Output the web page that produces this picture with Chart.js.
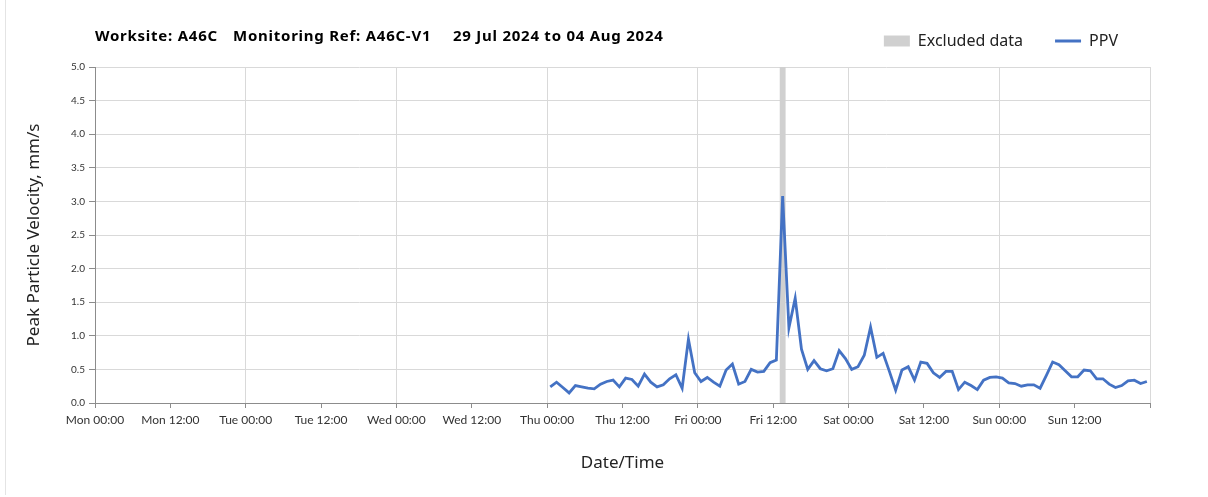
<!DOCTYPE html>
<html>
<head>
<meta charset="utf-8">
<script src="https://cdn.jsdelivr.net/npm/chart.js@4/dist/chart.umd.min.js"></script>
<style>
  html, body { margin: 0; padding: 0; background: #fff; }
  #wrap { position: relative; width: 1208px; height: 497px; }
  #wrap::before { content: ''; position: absolute; left: 5px; top: 0; bottom: 2px; border-left: 1px solid #e4e4e4; }
</style>
</head>
<body>
<div id="wrap"><canvas id="ppvChart" width="1208" height="497"></canvas></div>
<script>
// axis runs Mon 29 Jul 00:00 -> Mon 05 Aug 00:00, values in hours
const axisHours = 168;
const tickLabels = ['Mon 00:00', 'Mon 12:00', 'Tue 00:00', 'Tue 12:00', 'Wed 00:00', 'Wed 12:00',
  'Thu 00:00', 'Thu 12:00', 'Fri 00:00', 'Fri 12:00', 'Sat 00:00', 'Sat 12:00', 'Sun 00:00', 'Sun 12:00'];

// hourly readings, first one at Thu 00:30
const firstReadingHour = 72.5;
const readingStepHours = 1;
const ppvValues = [
  0.24, 0.31, 0.23, 0.15, 0.26, 0.24, 0.22, 0.21, 0.28, 0.32, 0.34, 0.24,
  0.37, 0.35, 0.25, 0.43, 0.31, 0.24, 0.27, 0.36, 0.42, 0.22, 0.95, 0.45,
  0.32, 0.38, 0.31, 0.25, 0.49, 0.58, 0.28, 0.32, 0.50, 0.46, 0.47, 0.60,
  0.64, 3.08, 1.12, 1.56, 0.80, 0.50, 0.63, 0.51, 0.48, 0.51, 0.78, 0.66,
  0.50, 0.54, 0.71, 1.13, 0.68, 0.74, 0.47, 0.19, 0.49, 0.54, 0.34, 0.61,
  0.59, 0.45, 0.38, 0.47, 0.47, 0.20, 0.31, 0.26, 0.20, 0.34, 0.38, 0.39,
  0.37, 0.30, 0.29, 0.25, 0.27, 0.27, 0.22, 0.41, 0.61, 0.57, 0.48, 0.39,
  0.39, 0.49, 0.48, 0.36, 0.36, 0.28, 0.23, 0.26, 0.33, 0.34, 0.29, 0.32
];

// excluded period (hours from axis start): Fri 13:00 - 14:00
const excludedFrom = 109;
const excludedTo = 110;
const yMax = 5;

const titleParts = ['Worksite: A46C', 'Monitoring Ref: A46C-V1', '29 Jul 2024 to 04 Aug 2024'];

const ppvPoints = ppvValues.map((v, i) => ({ x: firstReadingHour + i * readingStepHours, y: v }));
const excludedPoints = [{ x: excludedFrom, y: yMax }, { x: excludedTo, y: yMax }];

const headerPlugin = {
  id: 'header',
  beforeInit(chart) {
    // legend takes the whole band above the plot
    const fit = chart.legend.fit;
    chart.legend.fit = function () {
      fit.call(this);
      this.height = 66;
    };
  },
  afterDraw(chart) {
    const ctx = chart.ctx;
    const left = chart.chartArea.left;
    const offsets = [0, 138, 358];
    ctx.save();
    ctx.fillStyle = '#000';
    ctx.font = 'bold 15px "Noto Sans"';
    ctx.letterSpacing = '0.75px';
    ctx.textBaseline = 'middle';
    titleParts.forEach((t, i) => ctx.fillText(t, left + offsets[i], 37));
    ctx.restore();
  }
};

const gridGrey = '#d9d9d9';
const axisGrey = '#8c8c8c';

new Chart(document.getElementById('ppvChart'), {
  type: 'line',
  data: {
    datasets: [{
      label: 'Excluded data',
      data: excludedPoints,
      backgroundColor: '#d0d0d0',
      borderWidth: 0,
      pointRadius: 0,
      fill: 'origin',
      order: 1
    }, {
      label: 'PPV',
      data: ppvPoints,
      borderColor: '#4472c4',
      backgroundColor: '#4472c4',
      borderWidth: 2.8,
      pointRadius: 0,
      tension: 0,
      fill: false,
      order: 0
    }]
  },
  options: {
    responsive: false,
    animation: false,
    layout: { padding: { top: 1, right: 58, left: 0, bottom: 0 } },
    plugins: {
      tooltip: { enabled: false },
      legend: {
        position: 'top',
        align: 'end',
        labels: {
          font: { family: 'Noto Sans', size: 16 },
          color: '#222',
          usePointStyle: true,
          pointStyleWidth: 26,
          boxHeight: 11,
          padding: 32,
          generateLabels(chart) {
            return chart.data.datasets.map((ds, i) => ({
              text: ds.label,
              datasetIndex: i,
              fillStyle: ds.backgroundColor,
              strokeStyle: i === 0 ? '#d0d0d0' : ds.borderColor,
              lineWidth: i === 0 ? 0 : 3,
              pointStyle: i === 0 ? 'rect' : 'line',
              fontColor: '#222',
              hidden: false
            }));
          }
        }
      }
    },
    scales: {
      x: {
        type: 'linear',
        min: 0,
        max: axisHours,
        afterFit(scale) { scale.height = 94; },
        border: { color: axisGrey, width: 1 },
        grid: {
          color: ctx => (ctx.tick && ctx.tick.value % 24 === 0 ? gridGrey : 'rgba(0,0,0,0)'),
          tickColor: axisGrey,
          tickLength: 5
        },
        ticks: {
          stepSize: 12,
          autoSkip: false,
          maxRotation: 0,
          padding: 5,
          color: '#333',
          font: { family: 'Lato', size: 12 },
          callback: (v) => tickLabels[v / 12] || ''
        },
        title: {
          display: true,
          text: 'Date/Time',
          color: '#222',
          font: { family: 'Noto Sans', size: 17 },
          padding: { top: 4, bottom: 24 }
        }
      },
      y: {
        min: 0,
        max: yMax,
        afterFit(scale) { scale.width = 95; },
        border: { color: axisGrey, width: 1 },
        grid: { color: gridGrey, tickColor: axisGrey, tickLength: 6 },
        ticks: {
          stepSize: 0.5,
          padding: 4,
          color: '#333',
          font: { family: 'Lato', size: 10 },
          callback: v => v.toFixed(1)
        },
        title: {
          display: true,
          text: 'Peak Particle Velocity, mm/s',
          color: '#222',
          font: { family: 'Noto Sans', size: 17 },
          padding: { top: 24, bottom: 4 }
        }
      }
    }
  },
  plugins: [headerPlugin]
});
</script>
</body>
</html>
